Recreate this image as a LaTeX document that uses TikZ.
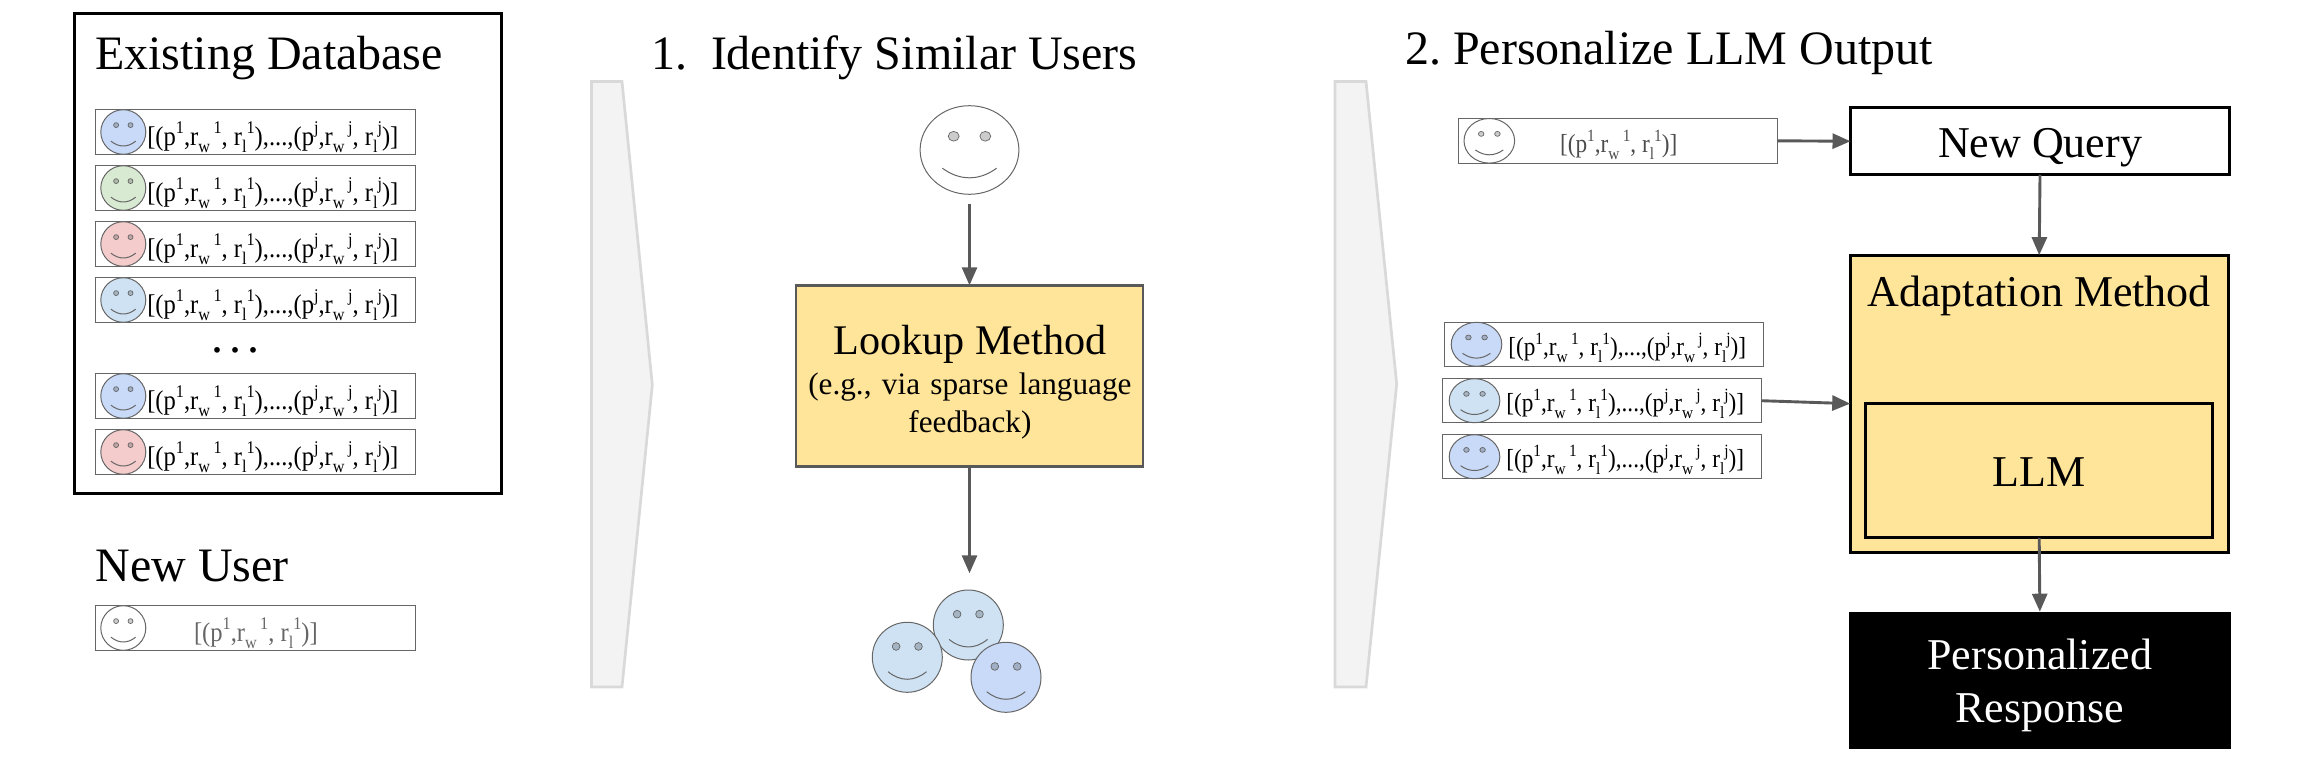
\documentclass[tikz,border=0pt]{standalone}
\usepackage{fontspec}
\usepackage{graphicx}
\setmainfont{Liberation Serif}
\usetikzlibrary{arrows.meta,shapes.geometric}
\definecolor{gold}{HTML}{FFE599}
\definecolor{edgegray}{HTML}{595959}
\definecolor{rowgray}{HTML}{666666}
\definecolor{chevfill}{HTML}{F3F3F3}
\definecolor{chevline}{HTML}{D9D9D9}
\definecolor{fblue}{HTML}{C9DAF8}
\definecolor{fsky}{HTML}{CFE2F3}
\definecolor{fgreen}{HTML}{D9EAD3}
\definecolor{fred}{HTML}{F4CCCC}
\frenchspacing
\newcommand{\mysup}[1]{\raisebox{.42em}{\scalebox{.66}{#1}}}
\newcommand{\mysub}[1]{\raisebox{-.27em}{\scalebox{.66}{#1}}}
\newcommand{\longrec}{[(p\mysup{1},r\mysub{w}\hspace{.14em}\mysup{1}, r\mysub{l}\mysup{1}),...,(p\mysup{j},r\mysub{w}\hspace{.14em}\mysup{j}, r\mysub{l}\mysup{j})]}
\newcommand{\shortrec}{[(p\mysup{1},r\mysub{w}\hspace{.14em}\mysup{1}, r\mysub{l}\mysup{1})]}
\tikzset{
  flow/.style={draw=edgegray,line width=2.9pt,-{Triangle[length=18pt,width=15pt]}},
  rowbox/.style={rectangle,draw=rowgray,line width=1.2pt,inner sep=0,outer sep=0},
  facebody/.style={ellipse,draw=rowgray,line width=1pt,inner sep=0,outer sep=0},
  eyedot/.style={draw=rowgray,line width=.7pt,fill=black,fill opacity=.2},
  smile/.style={draw=rowgray,line width=1pt},
  blackbox/.style={rectangle,draw=black,line width=3pt,inner sep=0,outer sep=0},
  greybox/.style={rectangle,draw=edgegray,line width=2.6pt,inner sep=0,outer sep=0},
  chevron/.style={draw=chevline,line width=2.7pt,fill=chevfill,line join=miter},
  txt/.style={inner sep=0,outer sep=0,anchor=base},
  txtl/.style={inner sep=0,outer sep=0,anchor=base west},
  title/.style={txtl,font=\fontsize{48}{48}\selectfont},
  big/.style={txt,font=\fontsize{44}{44}\selectfont},
  recL/.style={txtl,font=\fontsize{27}{27}\selectfont},
  recR/.style={txtl,font=\fontsize{26}{26}\selectfont},
}
% name, cx, cy, rx, ry, fill
\newcommand{\smiley}[6]{%
  \node[facebody,fill=#6,minimum width={2*#4pt},minimum height={2*#5pt}] (#1) at (#2,#3) {};
  \begin{scope}[shift={(#2,#3)},xscale=#4,yscale=#5]
    \draw[eyedot] (-.32,-.31) circle [radius=.11];
    \draw[eyedot] (.32,-.31) circle [radius=.11];
    \draw[smile] (-.55,.41) .. controls (-.2,.70) and (.2,.70) .. (.55,.41);
  \end{scope}}
% name, top y, fill
\newcommand{\dbrow}[3]{%
  \node[rowbox,minimum width=320pt,minimum height=45.4pt] (#1) at (255.4,#2+22.7) {};
  \smiley{#1f}{123.3}{#2+22.7}{22.5}{22.3}{#3}
  \node[recL] (#1t) at (147.3,#2+35.8) {\scalebox{.91}[1]{\longrec}};}
% name, left x, top y, fill
\newcommand{\simrow}[4]{%
  \node[rowbox,minimum width=319pt,minimum height=44pt] (#1) at (#2+159.5,#3+22) {};
  \smiley{#1f}{#2+32.2}{#3+22}{25.3}{22}{#4}
  \node[recR] (#1t) at (#2+64,#3+33.2) {\scalebox{.895}[1]{\longrec}};}
\begin{document}
\begin{tikzpicture}[x=1pt,y=-1pt]
\useasboundingbox (0,0) rectangle (2304,768);
% chevrons
\draw[chevron] (591.5,81.5) -- (622,81.5) -- (652.3,385) -- (622,687) -- (591.5,687) -- cycle;
\draw[chevron] (1335,81.5) -- (1366,81.5) -- (1396.7,384) -- (1366,687) -- (1335,687) -- cycle;
% database
\node[blackbox,minimum width=426.7pt,minimum height=480pt] (db) at (288,253.4) {};
\node[title] (dbt) at (95,70) {Existing Database};
\dbrow{r1}{109.3}{fblue}
\dbrow{r2}{165.3}{fgreen}
\dbrow{r3}{221.3}{fred}
\dbrow{r4}{277.3}{fsky}
\node[txt,font=\fontsize{48}{48}\selectfont] (dots) at (235.5,352.7) {.\hspace{6.2pt}.\hspace{6.2pt}.};
\dbrow{r5}{373.3}{fblue}
\dbrow{r6}{429.3}{fred}
% new user
\node[title] (nut) at (95.5,581.5) {New User};
\node[rowbox,minimum width=320pt,minimum height=45.4pt] (nu) at (255.4,628) {};
\smiley{nuf}{123.3}{628}{22.5}{22.3}{white}
\node[recL,text=rowgray] (nux) at (194,641.2) {\scalebox{.91}[1]{\shortrec}};
% step 1
\node[title] (s1) at (651,70) {1.\ \ Identify Similar Users};
\smiley{top}{969.5}{150}{49.4}{44.3}{white}
\node[greybox,fill=gold,minimum width=347pt,minimum height=181.4pt] (lookup) at (969.5,376) {};
\node[txt,font=\fontsize{42.2}{42.2}\selectfont] (lookt) at (969.9,354.5) {Lookup Method};
\node[txt,font=\fontsize{31.2}{38}\selectfont,text width=340pt,align=center] (looks) at (969.9,394.5) {(e.g., via sparse language\\feedback)};
\coordinate (groupin) at (969.5,573.3);
\smiley{g1}{968.3}{625}{35}{35}{fsky}
\smiley{g2}{907.3}{657.3}{35}{35}{fsky}
\smiley{g3}{1006}{677.3}{35}{35}{fblue}
\draw[flow,shorten <=10pt] (top.south) -- (lookup.north);
\draw[flow] (lookup.south) -- (groupin);
% step 2
\node[title] (s2) at (1405,64.5) {2. Personalize LLM Output};
\node[rowbox,minimum width=319pt,minimum height=45pt] (qrow) at (1617.8,140.8) {};
\smiley{qrowf}{1489.3}{140.8}{25.3}{22.3}{white}
\node[recR,text=black!70] (qrowt) at (1560,152.7) {\scalebox{.895}[1]{\shortrec}};
\simrow{sa}{1444.3}{322.3}{fblue}
\simrow{sb}{1442.3}{378.7}{fsky}
\simrow{sc}{1442.3}{434.7}{fblue}
\node[blackbox,fill=white,minimum width=379pt,minimum height=67pt] (query) at (2040,141.25) {};
\node[big] (queryt) at (2040,157.4) {New Query};
\node[blackbox,fill=gold,minimum width=378pt,minimum height=297pt] (adapt) at (2039.2,403.65) {};
\node[big] (adaptt) at (2039.2,306) {Adaptation Method};
\node[blackbox,fill=gold,minimum width=347pt,minimum height=134pt] (llm) at (2039.2,470.8) {};
\node[big] (llmt) at (2039.2,486.2) {LLM};
\node[rectangle,fill=black,inner sep=0,outer sep=0,minimum width=381.7pt,minimum height=137.3pt] (resp) at (2039.85,680.35) {};
\node[big,text=white,text width=370pt,align=center,font=\fontsize{44}{53.6}\selectfont] (respt) at (2039.8,669) {Personalized\\Response};
\draw[flow] (qrow.east) -- (query.west);
\draw[flow] (query.south) -- (adapt.north);
\draw[flow] (sb.east) -- (adapt.west);
\draw[flow] (llm.south) -- (resp.north);
\end{tikzpicture}
\end{document}
